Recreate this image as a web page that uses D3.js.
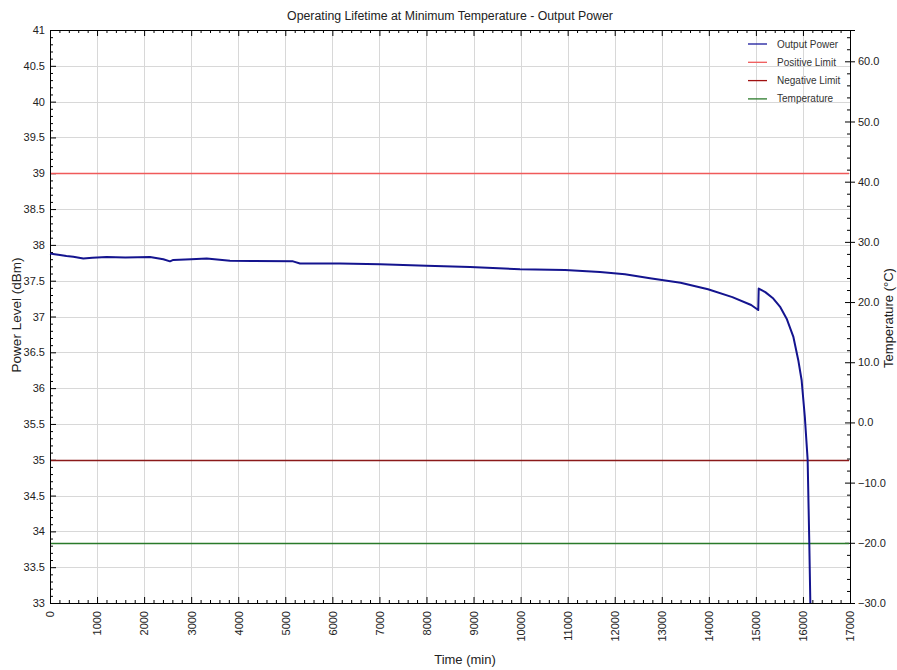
<!DOCTYPE html>
<html><head><meta charset="utf-8">
<script src="https://cdn.jsdelivr.net/npm/d3@7"></script>
<style>body{margin:0;background:#fff;font-family:"Liberation Sans",Arial,sans-serif;}</style>
</head><body>
<svg id="c" width="897" height="670"></svg>
<script>
const timeMin = [0,100,212,350,496,708,900,1204,1600,2125,2408,2550,2620,3000,3330,3825,4300,5165,5312,6162,7012,8000,8925,9987,10944,11687,12218,12750,13400,13983,14500,14900,15050,15060,15200,15370,15520,15654,15795,15901,15972,16040,16100,16135,16157];
const powerDbm = [37.88,37.87,37.86,37.845,37.835,37.81,37.82,37.83,37.825,37.83,37.80,37.77,37.79,37.80,37.81,37.78,37.775,37.77,37.74,37.74,37.73,37.71,37.69,37.66,37.65,37.62,37.59,37.535,37.47,37.38,37.27,37.16,37.09,37.39,37.34,37.25,37.13,36.97,36.72,36.39,36.11,35.6,35.0,33.84,33.0];
const positiveLimit = 39;
const negativeLimit = 35;
const temperatureC = -20;
const xTicks = d3.range(0,17001,1000);
const yTicks = d3.range(33,41.01,0.5);
const y2Ticks = d3.range(-30,60.01,10);
const legendItems = [
  {name:"Output Power", color:"#1a1a9c"},
  {name:"Positive Limit", color:"#f05a5a"},
  {name:"Negative Limit", color:"#a01010"},
  {name:"Temperature", color:"#2a7a2a"}
];

const svg = d3.select("#c");
const L=50,R=850,T=30,B=603;
const x = d3.scaleLinear().domain([0,17000]).range([L,R]);
const y = d3.scaleLinear().domain([33,41]).range([B,T]);
const y2 = d3.scaleLinear().domain([-30,65.2]).range([B,T]);
const fontF = "'Liberation Sans',Arial,sans-serif";

// grid
const g = svg.append("g");
g.selectAll(".vg").data(xTicks.slice(1,-1)).enter().append("line")
 .attr("x1",d=>Math.round(x(d))+0.5).attr("x2",d=>Math.round(x(d))+0.5).attr("y1",T).attr("y2",B)
 .style("stroke","#d8d8d8").attr("stroke-width",1);
g.selectAll(".hg").data(yTicks.slice(1,-1)).enter().append("line")
 .attr("y1",d=>Math.round(y(d))+0.5).attr("y2",d=>Math.round(y(d))+0.5).attr("x1",L).attr("x2",R)
 .style("stroke","#d8d8d8").attr("stroke-width",1);

// axes
const xb = d3.axisBottom(x).tickValues(xTicks).tickSize(-6).tickFormat(d3.format("d")).tickPadding(8);
const xa = svg.append("g").attr("transform",`translate(0,${B})`).call(xb);
xa.selectAll("text").attr("transform","rotate(-90)").attr("text-anchor","end")
 .attr("x",-8).attr("y",0).attr("dy","0.35em").style("font-size","11px").style("font-family",fontF).attr("fill","#222");
const xminor = d3.range(0,17001,200).filter(d=>d%1000!==0);
svg.append("g").attr("transform",`translate(0,${B})`).call(d3.axisBottom(x).tickValues(xminor).tickSize(-3).tickFormat("")).select(".domain").remove();
svg.append("g").attr("transform",`translate(0,${T})`).call(d3.axisTop(x).tickValues(xTicks).tickSize(-6).tickFormat(""));
svg.append("g").attr("transform",`translate(0,${T})`).call(d3.axisTop(x).tickValues(xminor).tickSize(-3).tickFormat("")).select(".domain").remove();

const ya = svg.append("g").attr("transform",`translate(${L},0)`).call(d3.axisLeft(y).tickValues(yTicks).tickSize(-6).tickPadding(5).tickFormat(d3.format("")));
ya.selectAll("text").style("font-size","11px").style("font-family",fontF).attr("fill","#222");
const yminor = d3.range(33,41.001,0.1).filter(d=>Math.abs(d*2-Math.round(d*2))>0.01);
svg.append("g").attr("transform",`translate(${L},0)`).call(d3.axisLeft(y).tickValues(yminor).tickSize(-3).tickFormat("")).select(".domain").remove();

const y2a = svg.append("g").attr("transform",`translate(${R},0)`).call(d3.axisRight(y2).tickValues(y2Ticks).tickSize(5).tickPadding(3).tickFormat(d3.format(".1f")));
y2a.selectAll(".tick line").attr("x1",-5);
y2a.selectAll("text").style("font-size","11px").style("font-family",fontF).attr("fill","#222");
const y2minor = d3.range(-30,65,2).filter(d=>d%10!==0);
svg.append("g").attr("transform",`translate(${R},0)`).call(d3.axisRight(y2).tickValues(y2minor).tickSize(-3).tickFormat("")).select(".domain").remove();
svg.selectAll(".domain").attr("stroke","#000");

// limits
function hline(v,sc,c){
  const yy = Math.round(sc(v))+0.5;
  svg.append("line").attr("x1",L+1).attr("x2",R-1).attr("y1",yy).attr("y2",yy)
    .style("stroke",c).style("stroke-width","1.3px");
}
hline(positiveLimit,y,"#f05a5a");
hline(negativeLimit,y,"#8b1a1a");
hline(temperatureC,y2,"#2a7a2a");

// power line
const line = d3.line().x((d,i)=>x(timeMin[i])).y(d=>y(d));
svg.append("path").datum(powerDbm).attr("d",line).style("fill","none")
 .style("stroke","#14148f").style("stroke-width","2px").attr("stroke-linejoin","round");

// titles
svg.append("text").attr("x",450).attr("y",20).attr("text-anchor","middle").style("font-size","12.3px").style("font-family",fontF).attr("fill","#222")
 .text("Operating Lifetime at Minimum Temperature - Output Power");
svg.append("text").attr("x",465).attr("y",664).attr("text-anchor","middle").style("font-size","13px").style("font-family",fontF).attr("fill","#222").text("Time (min)");
svg.append("text").attr("transform","translate(21,315) rotate(-90)").attr("text-anchor","middle").style("font-size","13.5px").style("font-family",fontF).attr("fill","#222").text("Power Level (dBm)");
svg.append("text").attr("transform","translate(893,318) rotate(-90)").attr("text-anchor","middle").style("font-size","13px").style("font-family",fontF).attr("fill","#222").text("Temperature (°C)");

// legend
const lg = svg.append("g");
legendItems.forEach((it,i)=>{
  const yy = 44 + i*18.3;
  lg.append("line").attr("x1",748).attr("x2",767).attr("y1",yy).attr("y2",yy).style("stroke",it.color).style("stroke-width","1.3px");
  lg.append("text").attr("x",777).attr("y",yy).attr("dy","0.35em").style("font-size","10px").style("font-family",fontF).attr("fill","#333").text(it.name);
});
</script>
</body></html>
